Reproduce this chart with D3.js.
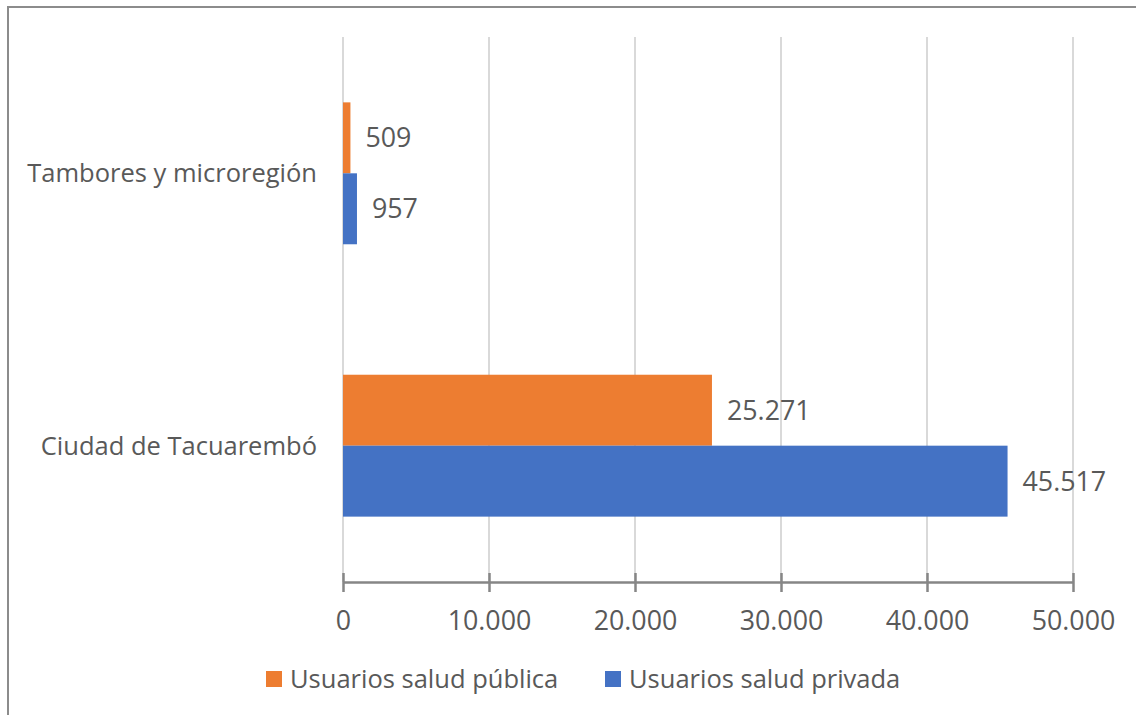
<!DOCTYPE html>
<meta charset="utf-8">
<script src="https://d3js.org/d3.v7.min.js"></script>
<style>
  body { margin: 0; background: #fff; }
  text { font-family: "Open Sans", sans-serif; fill: #595959; }
</style>
<div id="chart"></div>
<script>

// data
var categories = ["Tambores y microregión", "Ciudad de Tacuarembó"];
var series = ["Usuarios salud pública", "Usuarios salud privada"];
var publica = [509, 25271];
var privada = [957, 45517];
var tickValues = [0, 10000, 20000, 30000, 40000, 50000];
var colors = ["#ED7D31", "#4472C4"];

var W = 1136, H = 715;
var textSize = 25.5;   // category + legend
var numSize = 26.8;    // ticks + data labels

// spanish style numbers: 10.000
var es = d3.formatLocale({decimal: ",", thousands: ".", grouping: [3], currency: ["", "€"]});
var fmt = es.format(",.0f");

var svg = d3.select("#chart")
  .append("svg")
    .attr("width", W)
    .attr("height", H);

// chart frame (only left and top edges show in the picture)
svg.append("path")
  .attr("d", "M8,715V7H1136")
  .attr("fill", "none")
  .attr("stroke", "#8c8c8c")
  .attr("stroke-width", 2);

var x = d3.scaleLinear()
  .domain([0, 50000])
  .range([343, 1073]);

var y = d3.scaleBand()
  .domain(categories)
  .range([37, 582])
  .paddingInner(0.479)
  .paddingOuter(0.24);

var ySub = d3.scaleBand()
  .domain(series)
  .range([0, y.bandwidth()]);

// gridlines
svg.append("g")
  .selectAll("line")
  .data(tickValues)
  .enter()
  .append("line")
    .attr("x1", function(d) { return x(d); })
    .attr("x2", function(d) { return x(d); })
    .attr("y1", 37)
    .attr("y2", 582)
    .attr("stroke", "#d9d9d9")
    .attr("stroke-width", 2);

// bars
var rows = categories.map(function(c, i) {
  return {cat: c, vals: [publica[i], privada[i]]};
});

var groups = svg.append("g")
  .selectAll("g")
  .data(rows)
  .enter()
  .append("g")
    .attr("transform", function(d) { return "translate(0," + y(d.cat) + ")"; });

groups.selectAll("rect")
  .data(function(d) { return d.vals.map(function(v, j) { return {s: series[j], v: v, j: j}; }); })
  .enter()
  .append("rect")
    .attr("x", x(0))
    .attr("y", function(d) { return ySub(d.s); })
    .attr("width", function(d) { return x(d.v) - x(0); })
    .attr("height", ySub.bandwidth())
    .attr("fill", function(d) { return colors[d.j]; });

groups.selectAll("text")
  .data(function(d) { return d.vals.map(function(v, j) { return {s: series[j], v: v}; }); })
  .enter()
  .append("text")
    .attr("x", function(d) { return x(d.v) + 15; })
    .attr("y", function(d) { return ySub(d.s) + ySub.bandwidth() / 2; })
    .attr("dy", "0.35em")
    .style("font-size", numSize + "px")
    .text(function(d) { return fmt(d.v); });

// category labels
svg.append("g")
  .selectAll("text")
  .data(categories)
  .enter()
  .append("text")
    .attr("x", 317)
    .attr("y", function(d) { return y(d) + y.bandwidth() / 2; })
    .attr("dy", "0.35em")
    .attr("text-anchor", "end")
    .style("font-size", textSize + "px")
    .text(function(d) { return d; });

// x axis
var xAxis = svg.append("g")
  .attr("transform", "translate(0,582)")
  .call(d3.axisBottom(x)
    .tickValues(tickValues)
    .tickFormat(fmt)
    .tickSizeInner(10)
    .tickSizeOuter(0)
    .tickPadding(19));

xAxis.select(".domain")
  .attr("stroke", "#868686")
  .attr("stroke-width", 2.5);
xAxis.selectAll(".tick line")
  .attr("stroke", "#868686")
  .attr("stroke-width", 2.5)
  .attr("y1", -9);
xAxis.selectAll(".tick text")
  .attr("fill", "#595959")
  .style("font-family", "Open Sans, sans-serif")
  .style("font-size", numSize + "px");

// legend
var legendX = [266, 605];
var legend = svg.append("g")
  .selectAll("g")
  .data(series)
  .enter()
  .append("g")
    .attr("transform", function(d, i) { return "translate(" + legendX[i] + ",671)"; });

legend.append("rect")
  .attr("width", 16)
  .attr("height", 16)
  .attr("fill", function(d, i) { return colors[i]; });

legend.append("text")
  .attr("x", 24)
  .attr("y", 8)
  .attr("dy", "0.35em")
  .style("font-size", textSize + "px")
  .text(function(d) { return d; });

</script>
